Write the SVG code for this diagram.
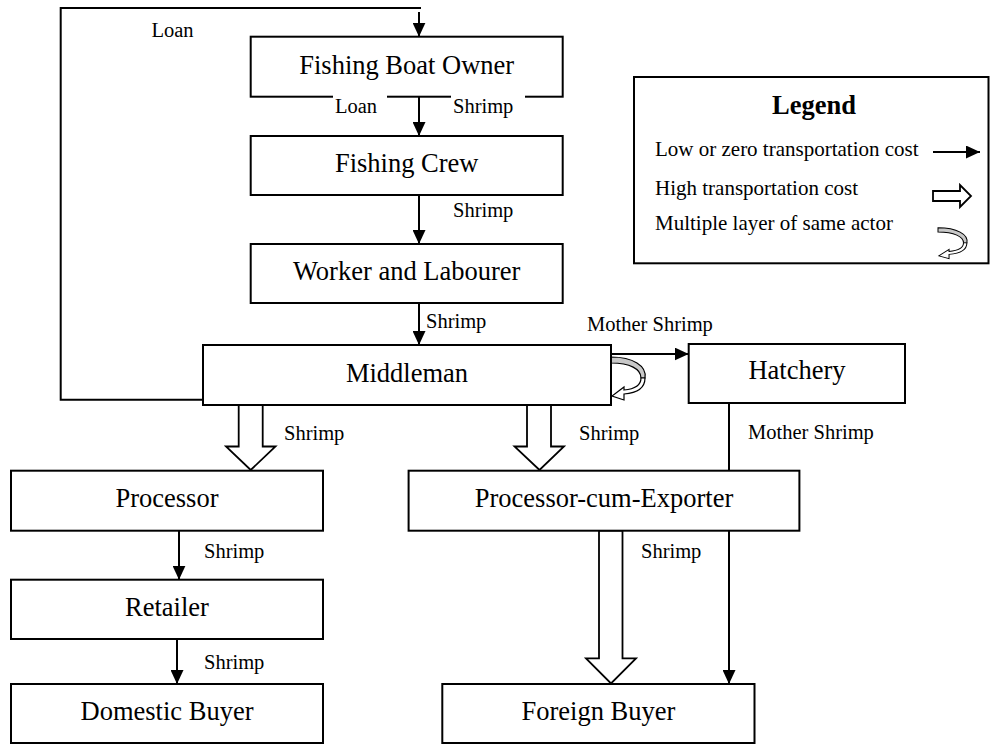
<svg xmlns="http://www.w3.org/2000/svg" width="990" height="744" viewBox="0 0 990 744">
<style>
.box{fill:#fff;stroke:#000;stroke-width:2}
.nt{font-family:"Liberation Serif","Times New Roman",serif;font-size:26.5px;text-anchor:middle;fill:#000}
.lb{font-family:"Liberation Serif","Times New Roman",serif;font-size:20.5px;fill:#000}
.lg{font-family:"Liberation Serif","Times New Roman",serif;font-size:21px;fill:#000}
.ln{fill:none;stroke:#000;stroke-width:2}
.hol{fill:#fff;stroke:#000;stroke-width:1.8;stroke-linejoin:miter}
</style>
<defs>
<marker id="ah" markerUnits="userSpaceOnUse" markerWidth="14" markerHeight="13" refX="14" refY="6.5" orient="auto">
<path d="M0,0 L14,6.5 L0,13 Z" fill="#000"/>
</marker>
<g id="curl">
<path d="M0,1 C22,1 36,10 34,22 L30,22 C30,13 19,7 0,7 Z" fill="#c8c8c8" stroke="#000" stroke-width="1.2"/>
<path d="M34,22 C34,32 26,37 13,38 L13,44 L1,40 L13,31 L13,34 C24,33 30,29 30,22 Z" fill="#fff" stroke="#000" stroke-width="1.2"/>
</g>
</defs>

<g id="connectors">
<polyline class="ln" points="203,399.7 60.7,399.7 60.7,8 421,8"/>
<line class="ln" x1="419" y1="12" x2="419" y2="36.7" marker-end="url(#ah)"/>
<line class="ln" x1="419" y1="96.7" x2="419" y2="136" marker-end="url(#ah)"/>
<line class="ln" x1="419" y1="195" x2="419" y2="244" marker-end="url(#ah)"/>
<line class="ln" x1="419" y1="303" x2="419" y2="345" marker-end="url(#ah)"/>
<line class="ln" x1="611" y1="354" x2="688.7" y2="354" marker-end="url(#ah)"/>
<line class="ln" x1="729" y1="403" x2="729" y2="684" marker-end="url(#ah)"/>
<line class="ln" x1="179" y1="530.7" x2="179" y2="579.7" marker-end="url(#ah)"/>
<line class="ln" x1="177" y1="639" x2="177" y2="684" marker-end="url(#ah)"/>
<polygon class="hol" points="238.7,405 238.7,446.5 226,446.5 250.7,470 275.5,446.5 262.7,446.5 262.7,405"/>
<polygon class="hol" points="527,405 527,446.5 514.5,446.5 539.5,470 564,446.5 551,446.5 551,405"/>
<polygon class="hol" points="599,530.7 599,658.3 586,658.3 611,683.5 636,658.3 622.5,658.3 622.5,530.7"/>
<use href="#curl" x="0" y="0" transform="translate(611,356)"/>
</g>

<g id="fishing-boat-owner">
<rect class="box" x="250.7" y="36.7" width="312" height="60"/>
<text class="nt" x="406.7" y="73.5">Fishing Boat Owner</text>
</g>
<g id="fishing-crew">
<rect class="box" x="250.7" y="136" width="312" height="59"/>
<text class="nt" x="406.7" y="172">Fishing Crew</text>
</g>
<g id="worker-labourer">
<rect class="box" x="250.7" y="244" width="312" height="59"/>
<text class="nt" x="406.7" y="280">Worker and Labourer</text>
</g>
<g id="middleman">
<rect class="box" x="203" y="345" width="408" height="60"/>
<text class="nt" x="407" y="382">Middleman</text>
</g>
<g id="hatchery">
<rect class="box" x="688.7" y="344" width="216.3" height="59"/>
<text class="nt" x="797" y="379">Hatchery</text>
</g>
<g id="processor">
<rect class="box" x="11" y="470.7" width="312" height="60"/>
<text class="nt" x="167" y="507">Processor</text>
</g>
<g id="processor-cum-exporter">
<rect class="box" x="408.6" y="470.7" width="390.8" height="60"/>
<text class="nt" x="604" y="507">Processor-cum-Exporter</text>
</g>
<g id="retailer">
<rect class="box" x="11" y="579.7" width="312" height="59.3"/>
<text class="nt" x="167" y="616">Retailer</text>
</g>
<g id="domestic-buyer">
<rect class="box" x="11" y="684" width="312" height="59"/>
<text class="nt" x="167" y="720">Domestic Buyer</text>
</g>
<g id="foreign-buyer">
<rect class="box" x="442.3" y="684" width="312.2" height="59"/>
<text class="nt" x="598.4" y="720">Foreign Buyer</text>
</g>

<g id="labels">
<text class="lb" x="151.5" y="37">Loan</text>
<rect x="333" y="92" width="54" height="26" fill="#fff"/>
<text class="lb" x="335" y="113">Loan</text>
<rect x="451" y="92" width="74" height="26" fill="#fff"/>
<text class="lb" x="453" y="113">Shrimp</text>
<text class="lb" x="453" y="217">Shrimp</text>
<text class="lb" x="426" y="328">Shrimp</text>
<text class="lb" x="587" y="331">Mother Shrimp</text>
<text class="lb" x="284" y="440">Shrimp</text>
<text class="lb" x="579" y="440">Shrimp</text>
<text class="lb" x="748" y="439">Mother Shrimp</text>
<text class="lb" x="204" y="558">Shrimp</text>
<text class="lb" x="641" y="558">Shrimp</text>
<text class="lb" x="204" y="669">Shrimp</text>
</g>

<g id="legend">
<rect class="box" x="634" y="77" width="354.5" height="186.3"/>
<text x="814" y="114" style="font-family:'Liberation Serif','Times New Roman',serif;font-size:26.5px;font-weight:bold;text-anchor:middle">Legend</text>
<text class="lg" x="655" y="156">Low or zero transportation cost</text>
<text class="lg" x="655" y="195">High transportation cost</text>
<text class="lg" x="655" y="230">Multiple layer of same actor</text>
<line class="ln" x1="933" y1="152" x2="980" y2="152" marker-end="url(#ah)"/>
<polygon class="hol" points="933,191 960,191 960,185 971,196 960,207 960,201 933,201"/>
<use href="#curl" transform="translate(938,227) scale(0.85,0.72)"/>
</g>
</svg>
